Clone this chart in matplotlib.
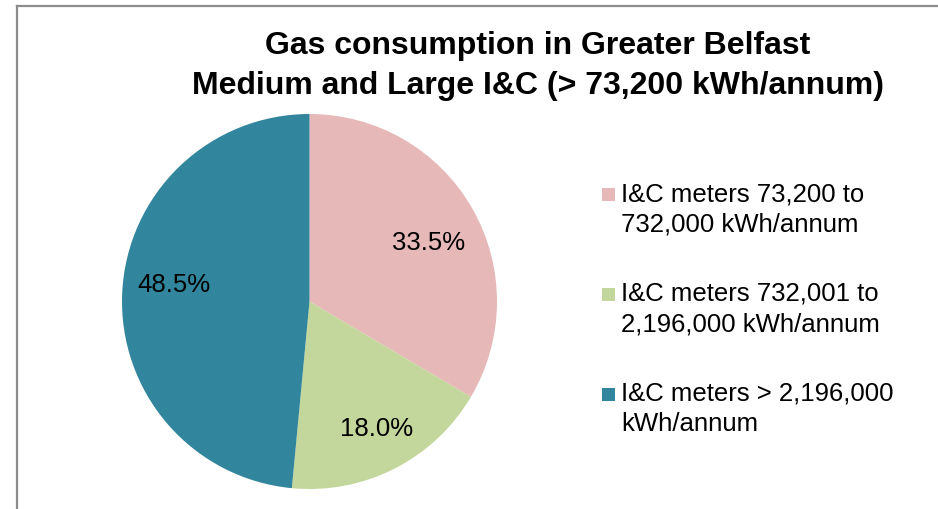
import matplotlib.pyplot as plt
from matplotlib.lines import Line2D
from matplotlib.patches import Rectangle

plt.rcParams['font.family'] = ['Liberation Sans', 'DejaVu Sans']

# Datos
categorias = [
    "I&C meters 73,200 to\n732,000 kWh/annum",
    "I&C meters 732,001 to\n2,196,000 kWh/annum",
    "I&C meters > 2,196,000\nkWh/annum",
]
porcentajes = [33.5, 18.0, 48.5]
colores = ['#E6B9B8', '#C3D69B', '#31859C']

W, H = 938, 509
fig = plt.figure(figsize=(W / 100, H / 100), dpi=100)

# marco gris del area del grafico (cortado a la derecha y abajo)
fig.add_artist(Line2D([16.5 / W, 16.5 / W], [0, 1 - 6 / H], color='#8c8c8c', lw=1.6,
                      transform=fig.transFigure))
fig.add_artist(Line2D([16.5 / W, 1], [1 - 6 / H, 1 - 6 / H], color='#8c8c8c', lw=1.6,
                      transform=fig.transFigure))

# pastel
cx, cy, r = 309.5, 301.5, 187.5
ax = fig.add_axes([(cx - r) / W, (H - cy - r) / H, 2 * r / W, 2 * r / H])
wedges, textos, autotextos = ax.pie(
    porcentajes, colors=colores, startangle=90, counterclock=False,
    autopct='%.1f%%', pctdistance=0.73, radius=1,
    textprops={'fontsize': 18.5, 'color': 'black'})
ax.set_xlim(-1, 1)
ax.set_ylim(-1, 1)
ax.set_aspect('equal')

# pequeño ajuste de las etiquetas como las coloca Excel
ajustes = [(0.0, -0.048), (0.027, -0.029), (0.005, 0.053)]
for t, (dx, dy) in zip(autotextos, ajustes):
    x, y = t.get_position()
    t.set_position((x + dx, y + dy))

fig.text(538 / W, 1 - 66 / H, "Gas consumption in Greater Belfast\nMedium and Large I&C (> 73,200 kWh/annum)",
         ha='center', va='center', fontsize=23, fontweight='bold', linespacing=1.45)

# leyenda
for i, (lab, col) in enumerate(zip(categorias, colores)):
    ytop = 182 + i * 100
    fig.add_artist(Rectangle((602 / W, 1 - 201 / H - i * 100 / H), 13 / W, 13 / H,
                             facecolor=col, edgecolor='none', transform=fig.transFigure))
    fig.text(621 / W, 1 - ytop / H, lab, ha='left', va='top', fontsize=18.5,
             linespacing=1.34)

fig.savefig('out.png', dpi=100)
